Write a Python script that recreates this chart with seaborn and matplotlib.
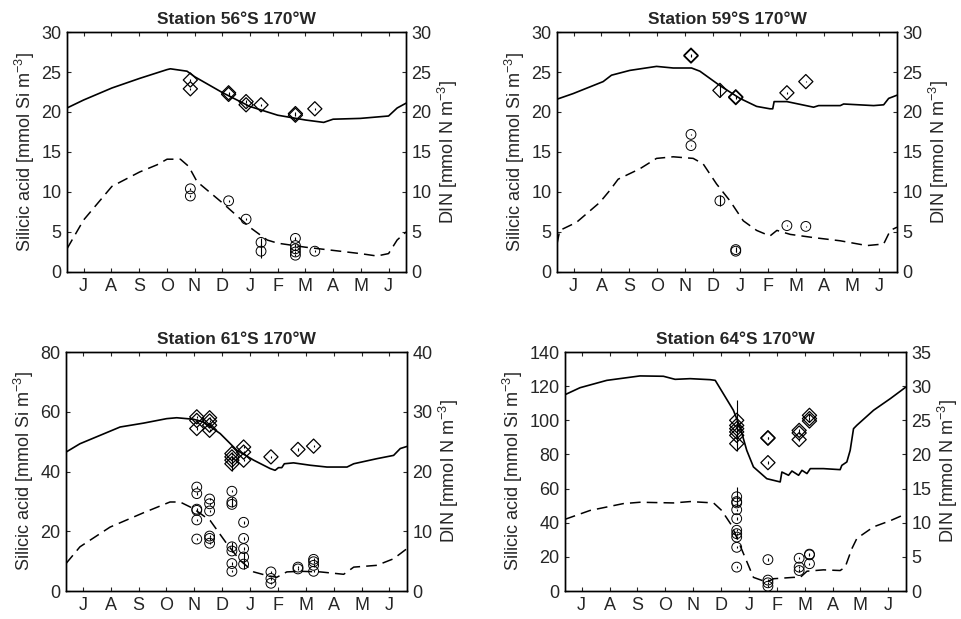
import matplotlib
matplotlib.use("Agg")
import matplotlib.pyplot as plt
import seaborn as sns

# x positions are in months after 1 July (0 = J, 1 = A, ... 11 = J)
MONTHS = ["J", "A", "S", "O", "N", "D", "J", "F", "M", "A", "M", "J"]

# ---- Station 56S ----
s56_si_mon = [-0.6, 0.0, 1.02, 2.02, 3.01, 3.13, 3.73, 4.01, 5.02, 5.99, 7.0, 8.0, 8.66, 9.0, 9.98, 11.0, 11.31, 11.63]
s56_si = [20.5, 21.5, 23.0, 24.2, 25.3, 25.4, 25.1, 24.4, 22.4, 20.7, 19.6, 19.0, 18.7, 19.1, 19.2, 19.5, 20.5, 21.1]
s56_din_mon = [-0.6, 0.0, 1.02, 2.02, 2.65, 3.01, 3.49, 3.79, 4.09, 5.02, 5.99, 6.62, 7.0, 8.0, 9.0, 9.98, 10.58, 11.0, 11.31, 11.63]
s56_din = [2.9, 6.5, 10.7, 12.5, 13.4, 14.1, 14.1, 13.2, 11.3, 8.6, 5.6, 4.0, 3.6, 3.1, 2.7, 2.3, 2.0, 2.3, 4.0, 5.0]
s56_dia_mon = [3.85, 3.85, 5.23, 5.23, 5.86, 5.86, 6.40, 7.64, 7.64, 8.34]
s56_dia = [24.0, 22.9, 22.4, 22.2, 21.3, 20.9, 20.9, 19.8, 19.6, 20.4]
s56_dia_err = [0.15, 0.15, 0.15, 0.15, 0.15, 0.15, 0.15, 0.15, 0.15, 0.15]
s56_cir_mon = [3.85, 3.85, 5.23, 5.86, 6.40, 6.40, 7.64, 7.64, 7.64, 7.64, 7.64, 8.34]
s56_cir = [10.4, 9.5, 8.9, 6.6, 3.7, 2.6, 4.2, 3.3, 2.9, 2.5, 2.1, 2.6]
s56_cir_err = [0.15, 0.15, 0.15, 0.15, 0.6, 0.9, 0.15, 0.15, 0.15, 0.15, 0.15, 0.15]

# ---- Station 59S ----
s59_si_mon = [-0.6, -0.02, 1.06, 1.36, 2.02, 2.98, 3.58, 4.24, 4.54, 5.26, 5.98, 6.58, 7.06, 7.16, 7.21, 7.67, 8.63, 8.81, 9.59, 9.71, 10.79, 11.15, 11.33, 11.63]
s59_si = [21.6, 22.3, 23.8, 24.6, 25.2, 25.7, 25.5, 25.5, 25.1, 23.3, 21.7, 20.7, 20.4, 20.4, 21.3, 21.3, 20.6, 20.8, 20.8, 21.0, 20.8, 20.9, 21.7, 22.1]
s59_din_mon = [-0.6, -0.50, 0.10, 0.94, 1.30, 1.60, 2.38, 2.98, 3.58, 4.30, 4.66, 5.14, 5.62, 6.10, 6.58, 7.06, 7.31, 7.79, 8.63, 9.59, 10.55, 11.15, 11.39, 11.63]
s59_din = [3.5, 5.2, 6.2, 8.7, 10.2, 11.6, 12.9, 14.2, 14.4, 14.2, 13.5, 11.0, 8.9, 6.4, 5.2, 4.5, 5.2, 4.7, 4.3, 3.9, 3.3, 3.5, 5.2, 5.6]
s59_dia_mon = [4.22, 4.22, 5.26, 5.83, 5.83, 7.67, 8.35]
s59_dia = [27.0, 27.1, 22.7, 21.9, 21.8, 22.4, 23.8]
s59_dia_err = [0.15, 0.15, 0.8, 0.15, 0.15, 0.1, 0.1]
s59_cir_mon = [4.22, 4.22, 5.26, 5.83, 5.83, 7.67, 8.35]
s59_cir = [17.2, 15.8, 8.9, 2.8, 2.6, 5.8, 5.7]
s59_cir_err = [0.1, 0.1, 0.7, 0.3, 0.15, 0.1, 0.1]

# ---- Station 61S ----
s61_si_mon = [-0.6, -0.10, 0.62, 1.34, 2.18, 3.01, 3.37, 3.97, 4.33, 4.93, 5.53, 6.13, 6.72, 6.90, 7.02, 7.14, 7.23, 7.56, 8.16, 8.76, 9.48, 9.72, 10.55, 11.15, 11.39, 11.63]
s61_si = [46.5, 49.3, 52.1, 54.9, 56.2, 57.7, 58.0, 57.5, 56.6, 52.7, 47.1, 43.8, 41.0, 40.4, 41.3, 41.3, 42.6, 42.9, 42.1, 41.5, 41.5, 42.6, 44.3, 45.4, 47.7, 48.4]
s61_din_mon = [-0.6, -0.10, 0.98, 2.18, 3.13, 3.49, 3.97, 4.57, 5.17, 5.65, 6.13, 6.60, 6.96, 7.32, 7.80, 8.52, 9.36, 9.72, 10.55, 11.15, 11.63]
s61_din = [4.6, 7.4, 10.7, 13.1, 14.9, 14.9, 13.8, 11.8, 7.9, 5.1, 3.2, 2.6, 2.3, 3.2, 3.3, 3.2, 2.8, 4.0, 4.3, 5.4, 7.1]
s61_dia_mon = [4.09, 4.09, 4.09, 4.55, 4.55, 4.55, 4.55, 5.35, 5.35, 5.35, 5.35, 5.77, 5.77, 5.77, 6.75, 7.72, 8.28]
s61_dia = [58.3, 57.1, 54.4, 58.0, 56.9, 55.5, 53.8, 46.0, 44.9, 43.8, 42.6, 48.2, 46.5, 43.8, 44.9, 47.4, 48.5]
s61_dia_err = [0.4, 0.4, 0.4, 0.4, 0.4, 0.4, 0.4, 0.4, 0.4, 0.4, 2.5, 0.4, 0.4, 0.4, 0.4, 0.4, 0.4]
s61_cir_mon = [4.09, 4.09, 4.09, 4.09, 4.09, 4.09,
               4.55, 4.55, 4.55, 4.55, 4.55, 4.55,
               5.35, 5.35, 5.35, 5.35, 5.35, 5.35, 5.35,
               5.77, 5.77, 5.77, 5.77, 5.77,
               6.75, 6.75, 6.75, 7.72, 7.72, 8.28, 8.28, 8.28, 8.28]
s61_cir = [17.4, 16.3, 13.7, 13.5, 11.9, 8.7,
           15.4, 14.6, 13.4, 9.2, 8.8, 8.0,
           16.7, 14.9, 14.5, 7.4, 6.7, 4.6, 3.3,
           11.5, 8.8, 7.1, 5.7, 4.5,
           3.2, 2.1, 1.3, 4.0, 3.7, 5.3, 4.9, 4.3, 3.3]
s61_cir_err = [0.2, 0.2, 0.2, 0.2, 0.2, 0.2,
               0.2, 0.2, 0.2, 0.2, 0.2, 0.2,
               0.2, 0.8, 0.2, 0.8, 0.2, 0.2, 0.2,
               0.2, 0.2, 0.2, 0.8, 0.8,
               0.2, 0.2, 0.2, 0.2, 0.2, 0.2, 0.2, 0.2, 0.2]

# ---- Station 64S ----
s64_si_mon = [-0.6, -0.06, 0.90, 2.09, 2.93, 3.35, 3.89, 4.61, 4.79, 5.08, 5.44, 5.68, 5.92, 6.16, 6.64, 7.12,
              7.18, 7.42, 7.54, 7.78, 7.90, 8.08, 8.20, 8.67, 9.27, 9.33, 9.51, 9.63, 9.75, 9.87, 10.47, 11.07, 11.63]
s64_si = [115.0, 119.1, 123.4, 126.0, 125.8, 124.0, 124.4, 123.8, 123.4, 115.6, 105.9, 96.1, 82.4, 72.7, 65.8, 63.9,
          69.7, 67.8, 70.3, 67.8, 70.7, 68.8, 71.7, 71.7, 71.1, 73.6, 75.6, 82.4, 95.1, 97.1, 105.9, 112.7, 119.5]
s64_din_mon = [-0.6, 0.30, 1.49, 2.09, 3.29, 3.89, 4.73, 5.02, 5.38, 5.80, 6.16, 6.64, 6.88, 7.60, 7.84, 8.08,
               8.67, 9.27, 9.45, 9.69, 9.87, 10.47, 11.07, 11.63]
s64_din = [10.5, 11.8, 12.8, 13.0, 12.9, 13.1, 12.9, 11.8, 9.6, 5.5, 2.0, 1.3, 1.8, 2.0, 2.0, 2.9,
           3.1, 3.0, 3.5, 6.2, 7.7, 9.4, 10.3, 11.3]
s64_dia_mon = [5.56, 5.56, 5.56, 5.56, 5.56, 5.56, 6.68, 6.68, 6.68, 7.80, 7.80, 7.80, 8.17, 8.17, 8.17]
s64_dia = [100.0, 97.0, 95.1, 93.2, 91.2, 86.3, 89.8, 89.5, 75.2, 94.1, 92.6, 88.7, 102.9, 101.0, 99.6]
s64_dia_err = [0.7, 15.0, 0.7, 0.7, 0.7, 0.7, 0.7, 0.7, 0.7, 0.7, 0.7, 0.7, 0.7, 0.7, 0.7]
s64_cir_mon = [5.56, 5.56, 5.56, 5.56, 5.56, 5.56, 5.56, 5.56, 5.56, 5.56,
               6.68, 6.68, 6.68, 6.68, 7.80, 7.80, 7.80, 8.17, 8.17, 8.17]
s64_cir = [13.8, 13.1, 12.9, 11.9, 10.6, 8.9, 8.4, 7.9, 6.4, 3.5,
           4.6, 1.6, 1.2, 0.7, 4.8, 3.5, 3.0, 5.4, 5.3, 4.0]
s64_cir_err = [1.4, 0.17, 0.17, 0.17, 0.17, 0.17, 0.17, 0.17, 0.17, 0.17,
               0.17, 0.17, 0.17, 0.17, 0.17, 0.17, 0.17, 0.17, 0.17, 0.17]


def draw_panel(ax, title, si_mon, si, din_mon, din, dia_mon, dia, dia_err,
               cir_mon, cir, cir_err, left_max, left_step, right_max, right_step):
    ax2 = ax.twinx()

    sns.lineplot(x=si_mon, y=si, ax=ax, color="k", linewidth=1.2, estimator=None, sort=False)
    sns.scatterplot(x=dia_mon, y=dia, ax=ax, marker="D", s=52, facecolor="none",
                    edgecolor="k", linewidth=0.9, zorder=3)
    ax.errorbar(dia_mon, dia, yerr=dia_err, fmt="none", ecolor="k", elinewidth=0.8, capsize=0, zorder=4)

    sns.lineplot(x=din_mon, y=din, ax=ax2, color="k", linewidth=1.1, linestyle=(0, (7, 4)),
                 estimator=None, sort=False)
    sns.scatterplot(x=cir_mon, y=cir, ax=ax2, marker="o", s=50, facecolor="none",
                    edgecolor="k", linewidth=0.7, zorder=3)
    ax2.errorbar(cir_mon, cir, yerr=cir_err, fmt="none", ecolor="k", elinewidth=0.8, capsize=0, zorder=4)

    for a in (ax, ax2):
        a.set_xlim(-0.6, 11.63)
        a.set_xticks(range(12))
        a.set_xticklabels(MONTHS)
        a.tick_params(direction="in", length=3, width=0.8, labelsize=13, top=True, pad=4)
        for sp in a.spines.values():
            sp.set_linewidth(1.0)
            sp.set_color("k")

    ax.set_ylim(0, left_max)
    ax.set_yticks(range(0, left_max + 1, left_step))
    ax2.set_ylim(0, right_max)
    ax2.set_yticks(range(0, right_max + 1, right_step))

    ax.set_ylabel("Silicic acid [mmol Si m$^{-3}$]", fontsize=13, labelpad=3)
    ax2.set_ylabel("DIN [mmol N m$^{-3}$]", fontsize=13, labelpad=3)
    ax.set_xlabel("")
    ax.set_title(title, fontsize=12.5, fontweight="bold", pad=6)
    ax.grid(False)
    ax2.grid(False)


sns.set_style("ticks")
plt.rcParams["font.family"] = ["Liberation Sans", "DejaVu Sans"]
plt.rcParams["mathtext.fontset"] = "custom"
plt.rcParams["mathtext.rm"] = "Liberation Sans"
plt.rcParams["mathtext.it"] = "Liberation Sans:italic"
plt.rcParams["mathtext.bf"] = "Liberation Sans:bold"

fig = plt.figure(figsize=(9.61, 6.19), dpi=100)
ax1 = fig.add_axes([0.0697, 0.5606, 0.3528, 0.3877])
ax2 = fig.add_axes([0.5796, 0.5606, 0.3538, 0.3877])
ax3 = fig.add_axes([0.0687, 0.0452, 0.3548, 0.3861])
ax4 = fig.add_axes([0.5879, 0.0452, 0.3548, 0.3861])

draw_panel(ax1, "Station 56\u00b0S 170\u00b0W", s56_si_mon, s56_si, s56_din_mon, s56_din,
           s56_dia_mon, s56_dia, s56_dia_err, s56_cir_mon, s56_cir, s56_cir_err, 30, 5, 30, 5)
draw_panel(ax2, "Station 59\u00b0S 170\u00b0W", s59_si_mon, s59_si, s59_din_mon, s59_din,
           s59_dia_mon, s59_dia, s59_dia_err, s59_cir_mon, s59_cir, s59_cir_err, 30, 5, 30, 5)
draw_panel(ax3, "Station 61\u00b0S 170\u00b0W", s61_si_mon, s61_si, s61_din_mon, s61_din,
           s61_dia_mon, s61_dia, s61_dia_err, s61_cir_mon, s61_cir, s61_cir_err, 80, 20, 40, 10)
draw_panel(ax4, "Station 64\u00b0S 170\u00b0W", s64_si_mon, s64_si, s64_din_mon, s64_din,
           s64_dia_mon, s64_dia, s64_dia_err, s64_cir_mon, s64_cir, s64_cir_err, 140, 20, 35, 5)

fig.savefig("out.png", dpi=100, facecolor="white")
